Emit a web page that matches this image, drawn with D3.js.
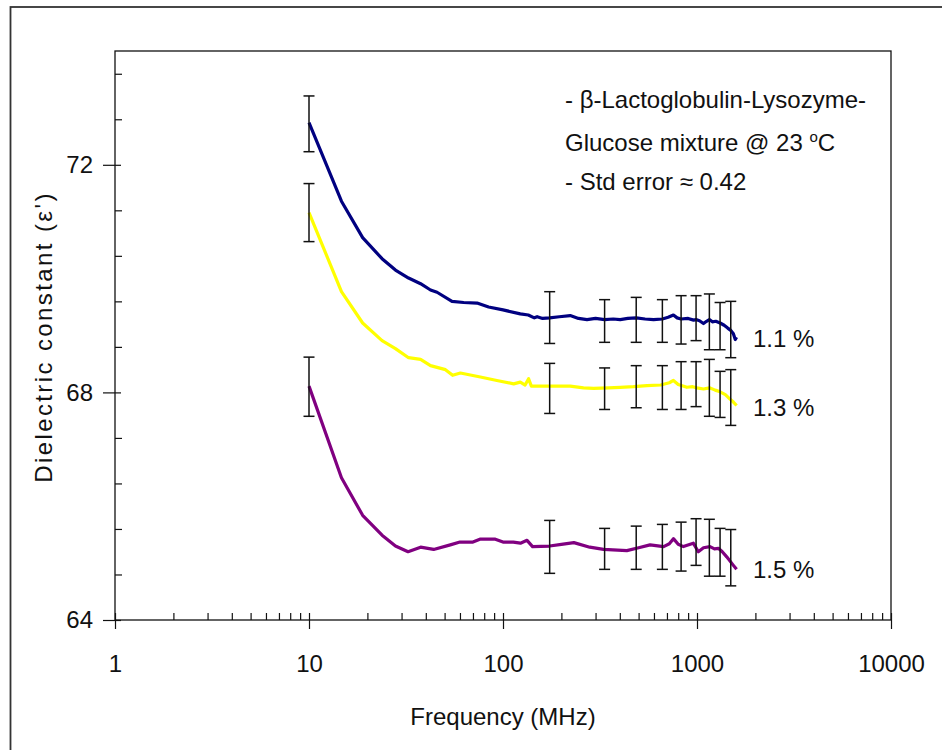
<!DOCTYPE html>
<html>
<head>
<meta charset="utf-8">
<script src="https://cdn.jsdelivr.net/npm/d3@7"></script>
<style>
  body { margin: 0; background: #fff; }
  svg text { font-family: "Liberation Sans", Arial, sans-serif; fill: #111; }
  .domain { display: none; }
</style>
</head>
<body>
<div id="chart"></div>
<script>
// 数据：频率(MHz)与介电常数 ε'
const xTicks = [1, 10, 100, 1000, 10000];
const yTicks = [64, 68, 72];

const blueF = [10, 14.7, 18.9, 23.8, 27.9, 32.6, 37.6, 42.3, 45.7, 54.6, 62.7, 73.5, 84.3, 100, 122.8, 135, 145, 150, 160, 174, 195, 222, 245, 271, 300, 334, 370, 402, 440, 486, 540, 597, 663, 710, 756, 790, 828, 900, 960, 989, 1030, 1080, 1120, 1158, 1200, 1250, 1315, 1380, 1440, 1493, 1540, 1575, 1600];
const blueE = [72.74, 71.36, 70.72, 70.35, 70.15, 70.01, 69.91, 69.80, 69.76, 69.60, 69.58, 69.57, 69.50, 69.45, 69.38, 69.36, 69.31, 69.33, 69.30, 69.31, 69.33, 69.35, 69.30, 69.28, 69.30, 69.28, 69.29, 69.28, 69.30, 69.31, 69.29, 69.28, 69.29, 69.32, 69.36, 69.31, 69.29, 69.30, 69.27, 69.28, 69.26, 69.21, 69.25, 69.28, 69.24, 69.25, 69.22, 69.18, 69.13, 69.09, 69.03, 68.93, 68.97];

const yellowF = [10, 14.7, 18.9, 23.8, 27.9, 32.6, 37.6, 42.3, 50.5, 55, 60.3, 76.4, 93, 113.5, 122.8, 130, 135.5, 140, 162, 222, 260, 293, 350, 402, 470, 552, 650, 720, 756, 800, 887, 950, 1000, 1080, 1160, 1240, 1315, 1400, 1470, 1540, 1600];
const yellowE = [71.16, 69.77, 69.22, 68.91, 68.77, 68.61, 68.58, 68.47, 68.40, 68.30, 68.34, 68.27, 68.21, 68.15, 68.18, 68.13, 68.24, 68.11, 68.11, 68.11, 68.08, 68.07, 68.08, 68.09, 68.10, 68.12, 68.13, 68.17, 68.21, 68.14, 68.09, 68.10, 68.08, 68.06, 68.08, 68.04, 68.01, 67.96, 67.89, 67.83, 67.77];

const purpleF = [10, 14.7, 18.9, 23.8, 27.9, 32.4, 37.6, 43.9, 53.5, 60, 70, 76, 91.3, 100, 113, 123, 133, 142, 174, 200, 232, 280, 330, 435, 500, 573, 673, 720, 756, 800, 851, 957, 1016, 1080, 1167, 1230, 1289, 1350, 1423, 1540, 1600];
const purpleE = [68.11, 66.50, 65.84, 65.49, 65.30, 65.20, 65.28, 65.24, 65.32, 65.37, 65.37, 65.42, 65.42, 65.37, 65.37, 65.35, 65.40, 65.29, 65.30, 65.33, 65.36, 65.28, 65.24, 65.22, 65.27, 65.32, 65.29, 65.34, 65.43, 65.33, 65.29, 65.35, 65.20, 65.27, 65.29, 65.25, 65.26, 65.20, 65.11, 64.96, 64.89];

// 误差棒：频率位置及上下限
const barF = [10, 174, 334, 486, 663, 828, 989, 1158, 1315, 1493];
const blueHi = [73.21, 69.77, 69.63, 69.67, 69.63, 69.70, 69.70, 69.73, 69.58, 69.60];
const blueLo = [72.23, 68.86, 68.88, 68.88, 68.88, 68.85, 68.91, 68.75, 68.75, 68.61];
const yellowHi = [71.67, 68.51, 68.43, 68.47, 68.47, 68.54, 68.54, 68.58, 68.37, 68.40];
const yellowLo = [70.65, 67.63, 67.70, 67.73, 67.70, 67.70, 67.75, 67.58, 67.56, 67.42];
const purpleHi = [68.62, 65.75, 65.61, 65.65, 65.68, 65.72, 65.78, 65.77, 65.61, 65.59];
const purpleLo = [67.58, 64.82, 64.89, 64.89, 64.89, 64.86, 64.96, 64.77, 64.77, 64.60];

const seriesLabels = ["1.1 %", "1.3 %", "1.5 %"];
const seriesLabelEps = [68.96, 67.75, 64.89];
const noteLines = ["- β-Lactoglobulin-Lysozyme-", "Glucose mixture @ 23 °C", "- Std error ≈ 0.42"];

const Width = 942, Height = 750;
const pLeft = 115, pRight = 891, pTop = 51, pBottom = 620;

const svg = d3.select("#chart").append("svg").attr("width", Width).attr("height", Height);

// 外框
svg.append("rect").attr("x", 10.5).attr("y", 7).attr("width", 960).attr("height", 800)
  .attr("fill", "none").attr("stroke", "#333").attr("stroke-width", 1.8);

const xScale = d3.scaleLog().domain([1, 10000]).range([pLeft, pRight]);
const yScale = d3.scaleLinear().domain([64, 74]).range([pBottom, pTop]);

// 绘图区边框
svg.append("rect").attr("x", pLeft).attr("y", pTop).attr("width", pRight - pLeft).attr("height", pBottom - pTop)
  .attr("fill", "none").attr("stroke", "#111").attr("stroke-width", 1.3);

// 次刻度
const xMinor = [];
for (let d = 1; d < 10000; d *= 10) for (let k = 2; k <= 9; k++) xMinor.push(d * k);
const yMinor = d3.range(64, 74.01, 0.8).filter(v => yTicks.indexOf(Math.round(v * 10) / 10) < 0);

const gx = svg.append("g").attr("transform", "translate(0," + pBottom + ")");
gx.call(d3.axisBottom(xScale).tickValues(xMinor).tickSize(-7).tickFormat(""));
gx.call(g => g.append("g").call(d3.axisBottom(xScale).tickValues(xTicks).tickSize(-7).tickFormat("")));
gx.call(g => g.append("g").call(d3.axisBottom(xScale).tickValues(xTicks).tickSize(9).tickPadding(26).tickFormat(d3.format("d"))));

const gy = svg.append("g").attr("transform", "translate(" + pLeft + ",0)");
gy.call(d3.axisLeft(yScale).tickValues(yMinor).tickSize(-7).tickFormat(""));
gy.call(g => g.append("g").call(d3.axisLeft(yScale).tickValues(yTicks).tickSize(-6).tickFormat("")));
gy.call(g => g.append("g").call(d3.axisLeft(yScale).tickValues(yTicks).tickSize(12).tickPadding(10).tickFormat(d3.format("d"))));

svg.selectAll(".tick line").attr("stroke", "#111").attr("stroke-width", 1.2);
svg.selectAll(".tick text").style("font-size", "24px").style("fill", "#111");

// 轴标题
svg.append("text").attr("x", 503).attr("y", 725).attr("text-anchor", "middle")
  .style("font-size", "24px").text("Frequency (MHz)");
svg.append("text").attr("transform", "translate(52,337) rotate(-90)").attr("text-anchor", "middle")
  .style("font-size", "24px").style("letter-spacing", "2.4px").text("Dielectric constant (ε')");

// 曲线
const series = [
  { f: blueF, e: blueE, hi: blueHi, lo: blueLo, color: "#000080" },
  { f: yellowF, e: yellowE, hi: yellowHi, lo: yellowLo, color: "#FFFF00" },
  { f: purpleF, e: purpleE, hi: purpleHi, lo: purpleLo, color: "#800080" }
];
const line = d3.line().x(d => xScale(d[0])).y(d => yScale(d[1]));

series.forEach(s => {
  svg.append("path").datum(s.f.map((f, i) => [f, s.e[i]]))
    .attr("d", line).attr("fill", "none").attr("stroke", s.color)
    .attr("stroke-width", 3.2).attr("stroke-linejoin", "round");
});

// 误差棒
series.forEach(s => {
  const g = svg.append("g").attr("stroke", "#111").attr("stroke-width", 1.5);
  barF.forEach((f, i) => {
    const x = xScale(f);
    g.append("line").attr("x1", x).attr("x2", x).attr("y1", yScale(s.hi[i])).attr("y2", yScale(s.lo[i]));
    g.append("line").attr("x1", x - 5.5).attr("x2", x + 5.5).attr("y1", yScale(s.hi[i])).attr("y2", yScale(s.hi[i]));
    g.append("line").attr("x1", x - 5.5).attr("x2", x + 5.5).attr("y1", yScale(s.lo[i])).attr("y2", yScale(s.lo[i]));
  });
});

// 系列标注
seriesLabels.forEach((t, i) => {
  svg.append("text").attr("x", 753).attr("y", yScale(seriesLabelEps[i]) + 9)
    .style("font-size", "24px").text(t);
});

// 说明文字
const noteY = [108, 151, 190];
noteLines.forEach((t, i) => {
  const txt = svg.append("text").attr("x", 565).attr("y", noteY[i]).style("font-size", "24px");
  if (i === 1) {
    txt.text("Glucose mixture @ 23 ");
    txt.append("tspan").attr("dy", -9).style("font-size", "15px").text("o");
    txt.append("tspan").attr("dy", 9).text("C");
  } else {
    txt.text(t);
  }
});
</script>
</body>
</html>
